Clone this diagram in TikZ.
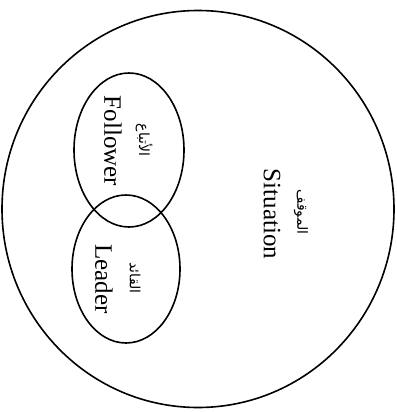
\documentclass[tikz,border=0pt]{standalone}
\usepackage{fontspec}
\setmainfont{Liberation Serif}
\newfontfamily\arabicfont[Script=Arabic]{DejaVu Sans}
\TeXXeTstate=1
\usetikzlibrary{shapes.geometric}
\tikzset{
  ring/.style={draw, ellipse, line width=1.6pt, inner sep=0pt},
  entext/.style={rotate=-90, font=\fontsize{25}{30}\selectfont, inner sep=0pt},
  artext/.style={rotate=-90, font=\arabicfont\fontsize{14}{18}\selectfont, inner sep=0pt}
}
\begin{document}
\begin{tikzpicture}[x=1pt,y=-1pt]
\useasboundingbox (0,0) rectangle (396,412);
\node[ring, minimum width=392pt, minimum height=397pt] (situation) at (198,209) {};
\node[ring, minimum width=110pt, minimum height=154pt] (follower) at (129,150) {};
\node[ring, minimum width=108pt, minimum height=148pt] (leader) at (126,269) {};
\node[entext] (fen) at (113,141) {Follower};
\node[artext] (far) at (144,140) {\beginR الأتباع\endR};
\node[entext] (len) at (104,279) {Leader};
\node[artext] (lar) at (135,278) {\beginR القائد\endR};
\node[entext] (sen) at (272,214) {Situation};
\node[artext] (sar) at (301,212) {\beginR الموقف\endR};
\end{tikzpicture}
\end{document}
